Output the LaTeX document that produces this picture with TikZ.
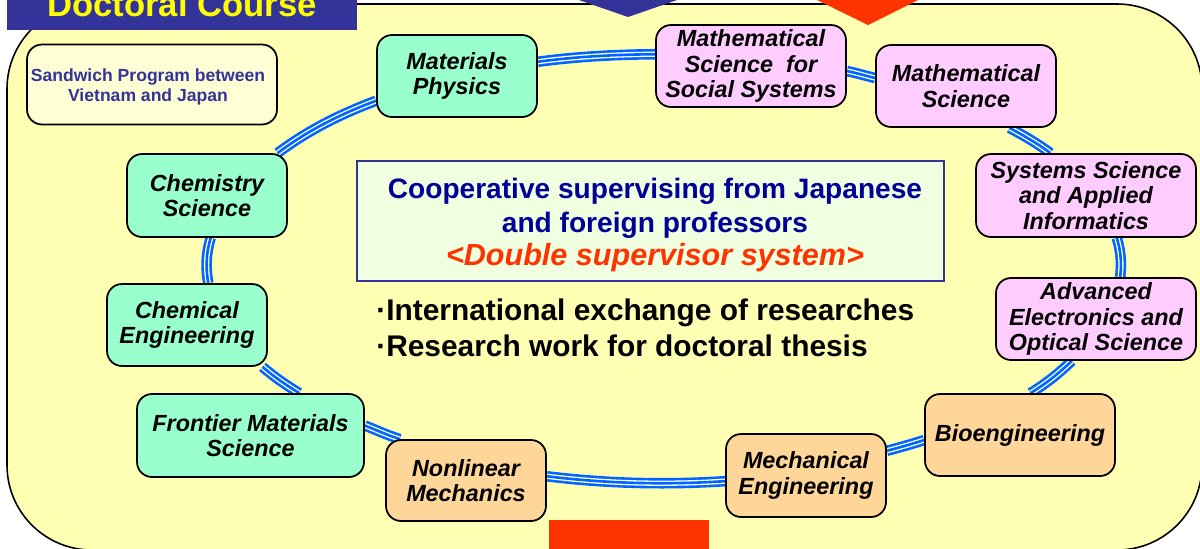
\documentclass[tikz,border=0pt]{standalone}
\usepackage{fontspec}
\setmainfont{Liberation Sans}
\usetikzlibrary{calc}
\definecolor{frameY}{HTML}{FFFFB3}
\definecolor{mintG}{HTML}{99FFCC}
\definecolor{pinkL}{HTML}{FFCCFF}
\definecolor{orangeL}{HTML}{FFD699}
\definecolor{navyP}{HTML}{333399}
\definecolor{navyT}{HTML}{000099}
\definecolor{redO}{HTML}{FF3300}
\definecolor{ringB}{HTML}{0066FF}
\definecolor{sandY}{HTML}{FFFFD5}
\definecolor{centerG}{HTML}{F0FFE0}
\definecolor{titleY}{HTML}{FFFF00}
\pgfdeclarelayer{framelayer}
\pgfdeclarelayer{ringlayer}
\pgfsetlayers{framelayer,ringlayer,main}
\begin{document}
\begin{tikzpicture}[x=0.02cm,y=-0.02cm,
  field/.style={draw=black, line width=1pt, rounded corners=0.3cm, align=center, inner sep=0pt,
    font=\fontsize{13.3}{14.6}\selectfont\bfseries\itshape, minimum height=1.64cm},
  fieldG/.style={field, fill=mintG},
  fieldP/.style={field, fill=pinkL},
  fieldO/.style={field, fill=orangeL},
  ring/.style={draw=ringB, line width=6pt,
    postaction={draw=white, line width=3pt},
    postaction={draw=ringB, line width=1.5pt}}
]
\useasboundingbox (0,0) rectangle (1200,548);
\clip (0,0) rectangle (1200,548);

\begin{pgfonlayer}{framelayer}
\draw[fill=frameY, line width=0.9pt, rounded corners=1.7cm] (7,4) rectangle (1202,550);
\end{pgfonlayer}

% field nodes
\node[fieldG, minimum width=3.2cm] (matphys) at (457,76) {Materials\\Physics};
\node[fieldP, minimum width=3.8cm] (mathsoc) at (751,66) {Mathematical\\Science \ for\\Social Systems};
\node[fieldP, minimum width=3.6cm] (mathsci) at (966,86) {Mathematical\\Science};
\node[fieldP, minimum width=4.4cm, minimum height=1.66cm] (systems) at (1086,195.5) {Systems Science\\and Applied\\Informatics};
\node[fieldP, minimum width=4.0cm] (adv) at (1096,319) {Advanced\\Electronics and\\Optical Science};
\node[fieldO, minimum width=3.8cm] (bio) at (1020,435) {Bioengineering};
\node[fieldO, minimum width=3.2cm, minimum height=1.66cm] (mech) at (806,475.5) {Mechanical\\Engineering};
\node[fieldO, minimum width=3.2cm, minimum height=1.62cm] (nonlin) at (466,480.5) {Nonlinear\\Mechanics};
\node[fieldG, minimum width=4.54cm, minimum height=1.66cm] (frontier) at (250.5,435.5) {Frontier Materials\\Science};
\node[fieldG, minimum width=3.2cm] (cheme) at (187,325) {Chemical\\Engineering};
\node[fieldG, minimum width=3.2cm, minimum height=1.66cm] (chems) at (207,195.5) {Chemistry\\Science};

% sandwich box
\node[draw=black, line width=1pt, rounded corners=0.3cm, fill=sandY, minimum width=5cm, minimum height=1.6cm, inner sep=0pt]
  (sandwich) at (152,84.5) {};
\node[text=navyP, font=\fontsize{10}{11.9}\selectfont\bfseries, align=center, inner sep=0pt] (sandtext) at (148,87)
  {Sandwich Program between\\Vietnam and Japan};

% center box
\node[draw=navyP, line width=0.9pt, fill=centerG, minimum width=11.74cm, minimum height=2.4cm, inner sep=0pt]
  (coop) at (650.5,221) {};
\node[align=center, font=\fontsize{16}{19}\selectfont\bfseries, text=navyT, inner sep=0pt] (cooptext) at (655,225)
  {Cooperative supervising from Japanese\\and foreign professors\\{\color{redO}\itshape\fontsize{17.4}{19}\selectfont <Double supervisor system>}};

% bullets
\node[anchor=west, align=left, font=\fontsize{17}{20.4}\selectfont\bfseries, inner sep=0pt] (bullets) at (376,328)
  {·International exchange of researches\\·Research work for doctoral thesis};

% ring connectors
\begin{pgfonlayer}{ringlayer}
\draw[ring] (matphys.10) .. controls ($(matphys.10)+(38.7,-5.1)$) and ($(mathsoc.173)+(-40.2,0.3)$) .. (mathsoc.173);
\draw[ring] (mathsoc.-3) .. controls ($(mathsoc.-3)+(10.2,2.1)$) and ($(mathsci.175)+(-9.9,-2.4)$) .. (mathsci.175);
\draw[ring] (mathsci.-44) .. controls ($(mathsci.-44)+(15.9,8.5)$) and ($(systems.130)+(-12.8,-9.5)$) .. (systems.130);
\draw[ring] (systems.-54) .. controls ($(systems.-54)+(4.1,13.6)$) and ($(adv.60)+(1.65,-13.7)$) .. (adv.60);
\draw[ring] (adv.-120) .. controls ($(adv.-120)+(-12.7,12.0)$) and ($(bio.76)+(17.3,-10.6)$) .. (bio.76);
\draw[ring] (bio.183) .. controls ($(bio.183)+(-12.6,4.1)$) and ($(mech.17)+(13.4,-3.5)$) .. (mech.17);
\draw[ring] (mech.184) .. controls ($(mech.184)+(-60,3.9)$) and ($(nonlin.3)+(58.5,7.2)$) .. (nonlin.3);
\draw[ring] (nonlin.148) .. controls ($(nonlin.148)+(-12.6,-4.1)$) and ($(frontier.5)+(11.6,4.7)$) .. (frontier.5);
\draw[ring] (frontier.41) .. controls ($(frontier.41)+(-14.4,-8.9)$) and ($(cheme.-29)+(11.3,9.8)$) .. (cheme.-29);
\draw[ring] (cheme.63) .. controls ($(cheme.63)+(-2.9,-15.7)$) and ($(chems.-85)+(-4.7,15.6)$) .. (chems.-85);
\draw[ring] (chems.31) .. controls ($(chems.31)+(27.3,-20.4)$) and ($(matphys.197)+(-40.3,15.0)$) .. (matphys.197);
\end{pgfonlayer}

% title tab and arrows
\fill[navyP] (7,-2) rectangle (357,30);
\node[text=titleY, font=\fontsize{19.7}{20}\selectfont\bfseries, anchor=base, inner sep=0pt] (title) at (182,16) {Doctoral Course};
\fill[navyP] (573,-2) -- (683,-2) -- (628,17) -- cycle;
\fill[redO] (813,-2) -- (922,-2) -- (868,25) -- cycle;
\fill[redO] (549,520) rectangle (709,550);
\end{tikzpicture}
\end{document}
